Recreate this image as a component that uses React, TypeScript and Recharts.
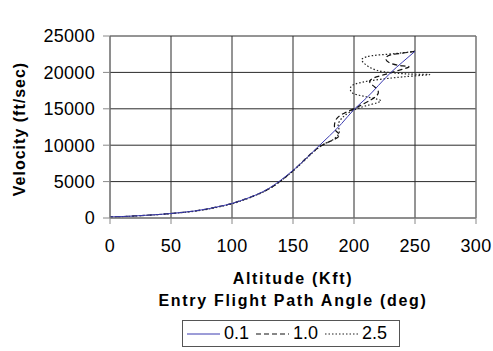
import React from 'react'
import { LineChart, Line, XAxis, YAxis, CartesianGrid, Legend, Label, ReferenceLine } from 'recharts'

// Trajectories listed from entry interface (high altitude) down to the ground
const ALT_01 = [250, 240, 230, 220, 210, 200, 190, 180, 170, 160, 150, 140, 130, 120, 110, 100, 90, 80, 70, 60, 50, 40, 30, 20, 10, 0]
const VEL_01 = [22900, 21450, 19950, 18200, 16450, 14900, 13000, 11300, 9700, 8050, 6550, 5200, 4050, 3200, 2550, 2000, 1600, 1250, 980, 780, 620, 480, 380, 280, 200, 150]

const ALT_10 = [250, 240, 230, 226, 230, 240, 245, 238, 230, 222, 215, 213, 217, 220, 218, 214, 208, 200, 192, 186, 184, 185, 188, 186, 180, 174, 168, 160, 150, 140, 130, 120, 110, 100, 90, 80, 70, 60, 50, 40, 30, 20, 10, 0]
const VEL_10 = [22900, 22650, 22400, 21900, 21250, 20900, 20750, 20350, 19950, 19550, 19150, 18600, 18000, 17300, 16700, 16250, 15700, 15000, 14400, 13700, 12800, 12000, 11500, 11000, 10500, 10000, 9300, 8100, 6500, 5100, 4000, 3200, 2550, 2000, 1600, 1250, 980, 780, 620, 480, 380, 280, 200, 150]

const ALT_25 = [250, 240, 228, 215, 207, 208, 214, 224, 238, 250, 262, 248, 232, 215, 201, 197, 199, 206, 214, 222, 214, 204, 196, 190, 187, 188, 186, 180, 172, 160, 150, 140, 130, 120, 110, 100, 90, 80, 70, 60, 50, 40, 30, 20, 10, 0]
const VEL_25 = [22900, 22700, 22500, 22300, 21900, 21300, 20600, 20100, 19850, 19750, 19700, 19500, 19250, 18900, 18400, 17800, 17150, 16800, 16500, 16100, 15600, 15100, 14500, 13700, 12800, 12000, 11200, 10500, 9800, 8000, 6450, 5100, 3950, 3150, 2500, 1950, 1550, 1200, 950, 760, 600, 470, 370, 270, 190, 140]

const X_TICKS = [0, 50, 100, 150, 200, 250, 300]
const Y_TICKS = [0, 5000, 10000, 15000, 20000, 25000]

const zip = (alt: number[], vel: number[]) => alt.map((a, i) => ({ alt: a, vel: vel[i] }))

const SERIES = [
  { name: '0.1', data: zip(ALT_01, VEL_01), color: '#3b3bb0', dash: undefined, width: 1 },
  { name: '1.0', data: zip(ALT_10, VEL_10), color: '#111111', dash: '5 3', width: 1.2 },
  { name: '2.5', data: zip(ALT_25, VEL_25), color: '#222222', dash: '1.5 2', width: 1.2 },
]

const FONT = '"Liberation Sans", Arial, sans-serif'
const TICK_STYLE = { fill: '#000', fontSize: 18, fontFamily: FONT, letterSpacing: 0.3 }

function XTitles({ viewBox }: any) {
  const cx = viewBox.x + viewBox.width / 2
  const style = { fontFamily: FONT, fontWeight: 700, fontSize: 16, letterSpacing: 1.7 }
  return (
    <g>
      <text x={cx} y={viewBox.y + 66} textAnchor="middle" fill="#000" style={style}>
        Altitude (Kft)
      </text>
      <text x={cx} y={viewBox.y + 88} textAnchor="middle" fill="#000" style={style}>
        Entry Flight Path Angle (deg)
      </text>
    </g>
  )
}

function YTitle({ viewBox }: any) {
  const cy = viewBox.y + viewBox.height / 2 + 2
  return (
    <text
      x={19}
      y={cy}
      transform={`rotate(-90, 19, ${cy})`}
      textAnchor="middle"
      dominantBaseline="central"
      fill="#000"
      style={{ fontFamily: FONT, fontWeight: 700, fontSize: 16, letterSpacing: 1 }}
    >
      Velocity (ft/sec)
    </text>
  )
}

function LegendBox() {
  return (
    <div
      style={{
        boxSizing: 'border-box',
        width: 218,
        height: 27,
        border: '1px solid #555',
        display: 'flex',
        alignItems: 'center',
        paddingLeft: 4,
        fontFamily: FONT,
        fontSize: 18,
        color: '#000',
      }}
    >
      {SERIES.map((s) => (
        <div key={s.name} style={{ display: 'flex', alignItems: 'center', marginRight: 7 }}>
          <svg width={33} height={8} style={{ marginRight: 4 }}>
            <line x1={0} y1={4} x2={33} y2={4} stroke={s.color} strokeWidth={s.width} strokeDasharray={s.dash} />
          </svg>
          <span>{s.name}</span>
        </div>
      ))}
    </div>
  )
}

export default function App() {
  return (
    <div style={{ position: 'absolute', left: 0, top: 0, width: 493, height: 351, background: '#fff' }}>
      <LineChart width={493} height={351} margin={{ top: 36, right: 17, bottom: 0, left: 50 }}>
        <CartesianGrid stroke="#2a2a2a" strokeWidth={1} />
        <XAxis
          type="number"
          dataKey="alt"
          domain={[0, 300]}
          ticks={X_TICKS}
          height={133}
          tickSize={6}
          tickMargin={15}
          axisLine={{ stroke: '#888' }}
          tickLine={{ stroke: '#888' }}
          tick={TICK_STYLE}
        >
          <Label content={XTitles} />
        </XAxis>
        <YAxis
          type="number"
          domain={[0, 25000]}
          ticks={Y_TICKS}
          width={60}
          tickSize={7}
          tickMargin={8}
          axisLine={{ stroke: '#888' }}
          tickLine={{ stroke: '#888' }}
          tick={TICK_STYLE}
        >
          <Label content={YTitle} />
        </YAxis>
        <ReferenceLine x={300} stroke="#999" />
        {SERIES.slice()
          .reverse()
          .map((s) => (
            <Line
              key={s.name}
              name={s.name}
              data={s.data}
              dataKey="vel"
              type="natural"
              stroke={s.color}
              strokeWidth={s.width}
              strokeDasharray={s.dash}
              dot={false}
              activeDot={false}
              isAnimationActive={false}
            />
          ))}
        <Legend
          verticalAlign="middle"
          align="center"
          layout="horizontal"
          wrapperStyle={{ left: 182, top: 320, width: 218, height: 27 }}
          content={LegendBox}
        />
      </LineChart>
    </div>
  )
}
